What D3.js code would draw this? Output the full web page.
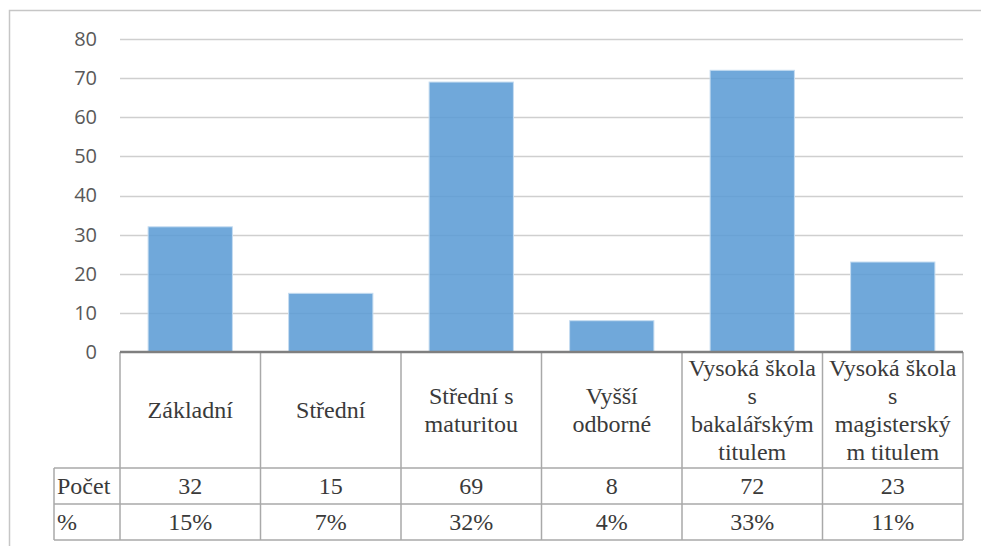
<!DOCTYPE html>
<html>
<head>
<meta charset="utf-8">
<script src="https://cdn.jsdelivr.net/npm/d3@7"></script>
</head>
<body style="margin:0;background:#fff">
<svg id="chart" width="981" height="546" style="display:block"></svg>
<script>
// Education level categories (line breaks as wrapped in the data table)
const categories = [
  "Základní",
  "Střední",
  "Střední s\nmaturitou",
  "Vyšší\nodborné",
  "Vysoká škola\ns\nbakalářským\ntitulem",
  "Vysoká škola\ns\nmagisterský\nm titulem"
];
const counts = [32, 15, 69, 8, 72, 23];
const percents = ["15%", "7%", "32%", "4%", "33%", "11%"];
const rowLabels = ["Počet", "%"];
const yTicks = [0, 10, 20, 30, 40, 50, 60, 70, 80];

const svg = d3.select("#chart");

const plotLeft = 120, plotRight = 963, plotTop = 39, plotBottom = 352;
const catRowBottom = 468, countRowBottom = 504, pctRowBottom = 540;
const labelColLeft = 54;

// Outer chart frame (top and left edges visible)
svg.append("path")
  .attr("d", "M9.5,546 L9.5,10.5 L981,10.5")
  .attr("fill", "none")
  .attr("stroke", "#c6c6c6")
  .attr("stroke-width", 1.5);

const x = d3.scaleBand().domain(categories).range([plotLeft, plotRight]).padding(0);
const y = d3.scaleLinear().domain([0, 80]).range([plotBottom, plotTop]);

// Horizontal gridlines
svg.append("g")
  .selectAll("line")
  .data(yTicks.filter(t => t > 0))
  .join("line")
  .attr("x1", plotLeft).attr("x2", plotRight)
  .attr("y1", d => Math.round(y(d)) + 0.5).attr("y2", d => Math.round(y(d)) + 0.5)
  .attr("stroke", "#cfcfcf")
  .attr("stroke-width", 1.5);

// Y axis tick labels
const yAxis = d3.axisLeft(y).tickValues(yTicks).tickSize(0).tickPadding(0);
const yg = svg.append("g").attr("transform", "translate(97,0)").call(yAxis);
yg.select(".domain").remove();
yg.selectAll("text")
  .style("font-family", "\"Open Sans\"")
  .style("font-size", "20px")
  .attr("fill", "#595959");

// Bars
const barW = x.bandwidth() * 0.6;
svg.append("g")
  .selectAll("rect")
  .data(categories)
  .join("rect")
  .attr("x", (d) => x(d) + (x.bandwidth() - barW) / 2)
  .attr("width", barW)
  .attr("y", (d, i) => y(counts[i]))
  .attr("height", (d, i) => y(0) - y(counts[i]))
  .attr("fill", "#5b9bd5")
  .attr("fill-opacity", 0.87)
  .attr("stroke", "#c5dcf1")
  .attr("stroke-width", 1);

// Data table
const grid = svg.append("g").attr("stroke", "#a9a9a9").attr("stroke-width", 1.5);
// Column boundaries
const bounds = categories.map(c => x(c)).concat([plotRight]);
grid.selectAll("line.v")
  .data(bounds)
  .join("line")
  .attr("class", "v")
  .attr("x1", d => d).attr("x2", d => d)
  .attr("y1", plotBottom).attr("y2", pctRowBottom);
// Row label column left edge
grid.append("line")
  .attr("x1", labelColLeft).attr("x2", labelColLeft)
  .attr("y1", catRowBottom).attr("y2", pctRowBottom);
// Row separators
grid.selectAll("line.h")
  .data([catRowBottom, countRowBottom, pctRowBottom])
  .join("line")
  .attr("class", "h")
  .attr("x1", labelColLeft).attr("x2", plotRight)
  .attr("y1", d => d).attr("y2", d => d);

// Category axis line
svg.append("line")
  .attr("x1", plotLeft).attr("x2", plotRight)
  .attr("y1", plotBottom).attr("y2", plotBottom)
  .attr("stroke", "#7f7f7f")
  .attr("stroke-width", 2.5);

const textColor = "#3a3a3a";
const lineH = 28;

function tableText(sel) {
  return sel
    .style("font-family", "\"Liberation Serif\"")
    .style("font-size", "24px")
    .style("fill", textColor);
}

// Category labels
const catG = svg.append("g");
categories.forEach(c => {
  const lines = c.split("\n");
  const cx = x(c) + x.bandwidth() / 2;
  const cy = (plotBottom + catRowBottom) / 2;
  const t = tableText(catG.append("text")).attr("text-anchor", "middle");
  lines.forEach((ln, i) => {
    t.append("tspan")
      .attr("x", cx)
      .attr("y", cy + (i - (lines.length - 1) / 2) * lineH)
      .attr("dy", "0.35em")
      .text(ln);
  });
});

// Value rows
const rows = [counts.map(String), percents];
const rowCenters = [(catRowBottom + countRowBottom) / 2, (countRowBottom + pctRowBottom) / 2];
rows.forEach((vals, r) => {
  const g = svg.append("g");
  tableText(g.selectAll("text")
    .data(vals)
    .join("text"))
    .attr("x", (d, i) => x(categories[i]) + x.bandwidth() / 2)
    .attr("y", rowCenters[r])
    .attr("dy", "0.35em")
    .attr("text-anchor", "middle")
    .text(d => d);
  tableText(g.append("text"))
    .attr("x", labelColLeft + 3)
    .attr("y", rowCenters[r])
    .attr("dy", "0.35em")
    .text(rowLabels[r]);
});
</script>
</body>
</html>
